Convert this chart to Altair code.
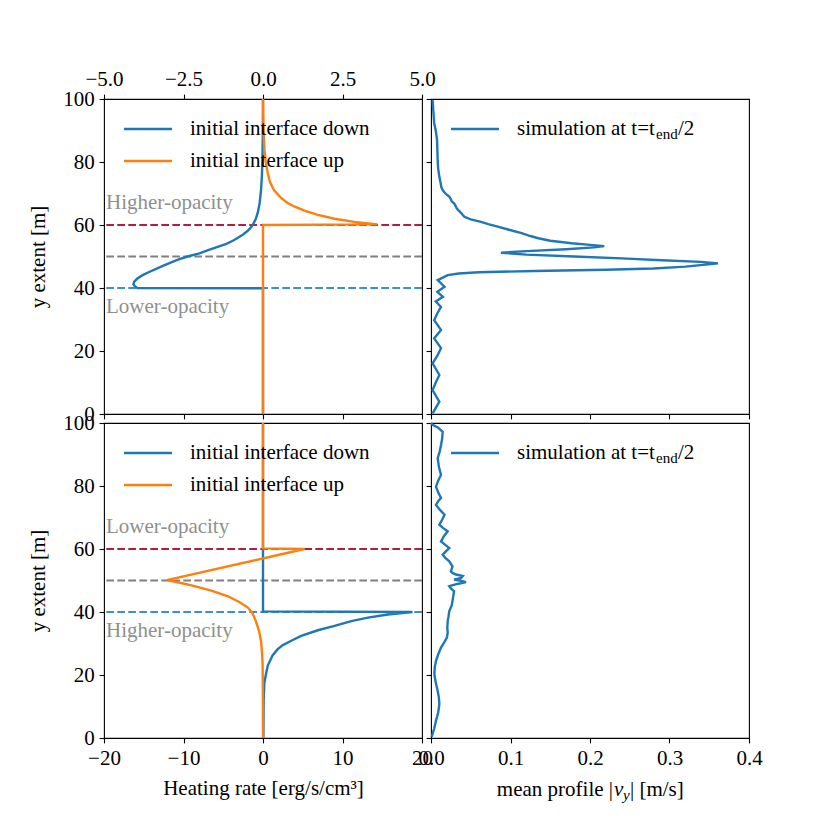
import altair as alt
import pandas as pd

FONT = "Liberation Serif"
FS = 21
SUB = 15
W, H = 318, 315
LW = 2.4

BLUE = "#1f77b4"
ORANGE = "#ff7f0e"
SERIES = ["initial interface down", "initial interface up"]

# ---------------- data: heating rate, top row ----------------
tl_down_y = [0, 39.9, 40.0, 40.5, 41.2, 42.0, 43.0, 44.0, 45.0, 46.0, 47.0, 48.0, 49.0, 50.0,
             51.0, 52.0, 53.0, 54.0, 55.0, 56.0, 57.0, 58.0, 59.0, 60.0, 62.0, 64.0, 67.0,
             71.0, 76.0, 82.0, 90.0, 100.0]
tl_down_x = [0, 0, -15.8, -16.1, -16.3, -16.2, -15.8, -15.2, -14.4, -13.5, -12.6, -11.7, -10.7,
             -9.5, -8.0, -6.9, -5.8, -4.6, -3.8, -3.1, -2.5, -2.0, -1.6, -1.3, -0.9, -0.65,
             -0.42, -0.25, -0.13, -0.06, -0.02, 0]
tl_up_y = [0, 60.0, 60.2, 61.0, 62.0, 63.2, 64.5, 65.8, 67.0, 68.5, 71.0, 73.5, 76.4, 80.0,
           84.0, 88.0, 94.0, 100.0]
tl_up_x = [0, 0, 14.4, 11.5, 9.0, 6.9, 5.3, 4.0, 3.1, 2.3, 1.4, 0.9, 0.6, 0.35, 0.17, 0.1,
           0.04, 0]

# ---------------- data: heating rate, bottom row ----------------
bl_down_y = [100, 40.2, 40.0, 39.2, 38.2, 37.1, 35.6, 34.2, 32.4, 30.8, 29.5, 28.2, 26.2, 23.0,
             20.0, 17.5, 12.0, 0]
bl_down_x = [0, 0, 18.8, 15.7, 13.2, 11.1, 9.0, 6.9, 4.8, 3.5, 2.5, 1.85, 1.2, 0.6, 0.35, 0.17,
             0.08, 0.05]
bl_up_y = [100, 60.2, 60.0, 50.1, 49.2, 48.2, 46.7, 45.0, 43.2, 41.4, 39.5, 37.1, 34.0, 30.8,
           27.0, 23.6, 15.0, 0]
bl_up_x = [0, 0, 5.2, -12.1, -10.3, -8.6, -6.4, -4.4, -3.0, -1.9, -1.3, -0.9, -0.5, -0.25,
           -0.12, -0.05, -0.02, 0]

# ---------------- data: mean |v_y| profiles ----------------
tr_y = [0.2, 3.9, 7.6, 10.0, 12.4, 16.1, 18.5, 20.9, 24.0, 26.7, 29.8, 32.0, 34.0, 35.7, 37.2,
        38.8, 40.4, 42.5, 44.1, 44.6, 45.0, 45.4, 45.8, 46.2, 46.8, 47.8, 48.3, 48.8, 49.4,
        50.0, 50.6, 51.2, 51.7, 52.3, 52.9, 53.3, 53.7, 54.2, 55.0, 55.8, 56.5, 57.4, 58.5,
        59.5, 60.3, 61.0, 61.8, 62.6, 63.2, 63.8, 64.3, 64.8, 65.4, 66.0, 66.9, 67.5, 68.2,
        69.0, 69.6, 70.3, 71.1, 72.0, 73.5, 75.3, 78.0, 80.6, 84.0, 87.0, 90.0, 92.3, 96.0,
        99.7]
tr_v = [0.002, 0.0105, 0.002, 0.006, 0.0105, 0.002, 0.008, 0.0126, 0.004, 0.0126, 0.004,
        0.008, 0.0126, 0.006, 0.015, 0.008, 0.017, 0.0084, 0.021, 0.035, 0.06, 0.13, 0.22,
        0.28, 0.32, 0.361, 0.34, 0.29, 0.24, 0.18, 0.12, 0.088, 0.12, 0.17, 0.205, 0.218,
        0.2, 0.177, 0.15, 0.135, 0.125, 0.114, 0.098, 0.084, 0.072, 0.063, 0.05, 0.042, 0.040,
        0.038, 0.036, 0.034, 0.032, 0.031, 0.029, 0.026, 0.025, 0.023, 0.020, 0.017, 0.0147,
        0.013, 0.012, 0.0105, 0.009, 0.0084, 0.008, 0.0076, 0.006, 0.004, 0.003, 0.002]
br_y = [0.4, 3.0, 5.5, 8.0, 10.8, 13.0, 15.0, 17.5, 20.3, 22.5, 24.5, 26.5, 28.7, 30.5, 31.9,
        33.5, 35.0, 37.1, 38.5, 40.3, 42.0, 43.4, 45.0, 46.6, 47.5, 48.2, 48.9, 49.5, 50.0,
        50.3, 50.8, 51.4, 51.9, 52.4, 52.9, 54.5, 56.1, 57.2, 58.2, 59.3, 60.3, 61.3, 62.4,
        64.0, 65.6, 66.7, 67.7, 69.3, 70.9, 72.5, 74.0, 75.2, 76.2, 78.0, 79.8, 81.7, 83.5,
        86.0, 88.8, 91.0, 93.0, 95.0, 97.2, 98.5, 99.4, 100.0]
br_v = [0.001, 0.004, 0.0063, 0.009, 0.0105, 0.0098, 0.0084, 0.006, 0.0042, 0.0048, 0.0063,
        0.009, 0.0126, 0.017, 0.020, 0.021, 0.0205, 0.021, 0.022, 0.023, 0.026, 0.027, 0.028,
        0.029, 0.025, 0.023, 0.033, 0.044, 0.036, 0.029, 0.038, 0.040, 0.0315, 0.027, 0.025,
        0.027, 0.023, 0.018, 0.0147, 0.019, 0.023, 0.018, 0.0126, 0.016, 0.021, 0.015, 0.0105,
        0.014, 0.017, 0.011, 0.0063, 0.009, 0.0126, 0.009, 0.0063, 0.009, 0.0126, 0.010,
        0.0084, 0.011, 0.0126, 0.014, 0.0147, 0.009, 0.002, 0.0]

interfaces = [60, 50, 40]
interface_colors = ["#b01e40", "#808080", "#3d8fd1"]

y_ticks = [0, 20, 40, 60, 80, 100]
heat_ticks = [-20, -10, 0, 10, 20]
top_ticks = [-5, -2.5, 0, 2.5, 5]
v_ticks = [0, 0.1, 0.2, 0.3, 0.4]

one = pd.DataFrame({"_": [0]})


def line_df(x, y, name):
    return pd.DataFrame({"x": x, "y": y, "series": name, "i": list(range(len(x)))})


def y_enc(show_labels):
    return alt.Y("y:Q", scale=alt.Scale(domain=[0, 100], nice=False, zero=False),
                 axis=alt.Axis(values=y_ticks, labels=show_labels,
                               title="y extent [m]" if show_labels else None,
                               titlePadding=14))


def txt(x, y, s, size=FS, align="left", style="normal"):
    return alt.Chart(one).mark_text(align=align, baseline="middle", font=FONT, fontSize=size,
                                    fontStyle=style, color="black").encode(
        x=alt.value(x), y=alt.value(y), text=alt.value(s))


def heat_panel(df, upper_label, lower_label, bottom):
    x = alt.X("x:Q", scale=alt.Scale(domain=[-20, 20], nice=False, zero=False),
              axis=alt.Axis(values=heat_ticks, labels=bottom, format="d",
                            title="Heating rate [erg/s/cm³]" if bottom else None,
                            titlePadding=9))
    rules = alt.Chart(pd.DataFrame({"y": interfaces, "c": interface_colors})).mark_rule(
        strokeWidth=2, strokeDash=[7.7, 3.3]).encode(
        y=y_enc(True), color=alt.Color("c:N", scale=None))
    notes = alt.Chart(pd.DataFrame({"t": [upper_label, lower_label], "y": [67, 34]})).mark_text(
        align="left", baseline="middle", font=FONT, fontSize=FS, color="#8f8f8f", dx=2).encode(
        x=alt.value(0), y="y:Q", text="t:N")
    lines = alt.Chart(df).mark_line(strokeWidth=LW).encode(
        x=x, y=y_enc(True),
        color=alt.Color("series:N", scale=alt.Scale(domain=SERIES, range=[BLUE, ORANGE]),
                        legend=None),
        order="i:Q")
    leg = []
    for k, (name, col) in enumerate(zip(SERIES, [BLUE, ORANGE])):
        yy = 30 + 32 * k
        leg.append(alt.Chart(one).mark_rule(strokeWidth=LW, color=col).encode(
            x=alt.value(20), x2=alt.value(68), y=alt.value(yy)))
        leg.append(txt(86, yy, name))
    return alt.layer(rules, notes, lines, *leg)


def v_panel(df, bottom):
    x = alt.X("v:Q", scale=alt.Scale(domain=[0, 0.4], nice=False, zero=False),
              axis=alt.Axis(values=v_ticks, labels=bottom, format=".1f", title=None))
    line = alt.Chart(df).mark_line(strokeWidth=LW, color=BLUE).encode(
        x=x, y=y_enc(False), order="i:Q")
    yy = 30
    layers = [
        line,
        alt.Chart(one).mark_rule(strokeWidth=LW, color=BLUE).encode(
            x=alt.value(20), x2=alt.value(68), y=alt.value(yy)),
        txt(86, yy, "simulation at t=t"),
        txt(86 + 139, yy + 5, "end", size=SUB),
        txt(86 + 161, yy, "/2"),
    ]
    if bottom:
        ty = H + 52
        layers += [
            txt(182, ty, "mean profile |", align="right"),
            txt(183, ty, "v", style="italic"),
            txt(192, ty + 5, "y", size=SUB, style="italic"),
            txt(199, ty, "| [m/s]"),
        ]
    return alt.layer(*layers)


tl_df = pd.concat([line_df(tl_down_x, tl_down_y, SERIES[0]), line_df(tl_up_x, tl_up_y, SERIES[1])])
bl_df = pd.concat([line_df(bl_down_x, bl_down_y, SERIES[0]), line_df(bl_up_x, bl_up_y, SERIES[1])])
tr_df = pd.DataFrame({"v": tr_v, "y": tr_y, "i": list(range(len(tr_v)))})
br_df = pd.DataFrame({"v": br_v, "y": br_y, "i": list(range(len(br_v)))})

top_axis = alt.Chart(pd.DataFrame({"t": [-5, 5]})).mark_point(opacity=0).encode(
    x=alt.X("t:Q", scale=alt.Scale(domain=[-5, 5], nice=False, zero=False),
            axis=alt.Axis(orient="top", values=top_ticks, format=".1f", title=None)))

tl = alt.layer(heat_panel(tl_df, "Higher-opacity", "Lower-opacity", False), top_axis
               ).resolve_scale(x="independent").properties(width=W, height=H)
bl = heat_panel(bl_df, "Lower-opacity", "Higher-opacity", True).properties(width=W, height=H)
tr = v_panel(tr_df, False).properties(width=W, height=H)
br = v_panel(br_df, True).properties(width=W, height=H)

chart = alt.concat(tl, tr, bl, br, columns=2, spacing=9, bounds="flush").properties(
    padding={"left": 19, "top": 59, "right": 5, "bottom": 5}
).configure_axis(
    labelFont=FONT, labelFontSize=FS, titleFont=FONT, titleFontSize=FS,
    titleFontWeight="normal", labelColor="black", titleColor="black",
    tickColor="black", tickSize=4.9, tickWidth=1.1, labelPadding=4.9,
    grid=False, domain=False, labelFlush=False, labelOverlap=False
).configure_view(stroke="black", strokeWidth=1.1)

chart.save("out.html", embed_options={"renderer": "svg", "actions": False})
